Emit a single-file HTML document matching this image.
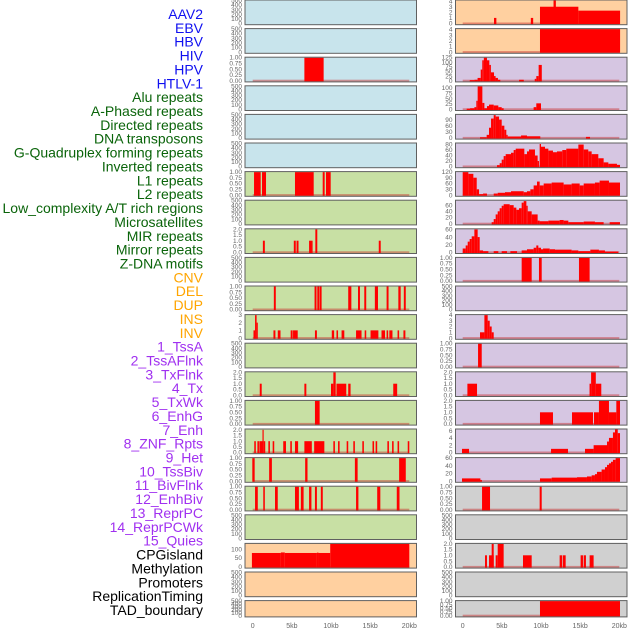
<!DOCTYPE html>
<html><head><meta charset="utf-8">
<style>
html,body{margin:0;padding:0;background:#fff;}
svg{display:block;font-family:"Liberation Sans",sans-serif;}
</style></head>
<body>
<svg id="chart" width="630" height="630" viewBox="0 0 630 630" xmlns="http://www.w3.org/2000/svg"></svg>
<script>
// ---------- labels ----------
const trackLabels = ["AAV2","EBV","HBV","HIV","HPV","HTLV-1","Alu repeats","A-Phased repeats","Directed repeats","DNA transposons","G-Quadruplex forming repeats","Inverted repeats","L1 repeats","L2 repeats","Low_complexity A/T rich regions","Microsatellites","MIR repeats","Mirror repeats","Z-DNA motifs","CNV","DEL","DUP","INS","INV","1_TssA","2_TssAFlnk","3_TxFlnk","4_Tx","5_TxWk","6_EnhG","7_Enh","8_ZNF_Rpts","9_Het","10_TssBiv","11_BivFlnk","12_EnhBiv","13_ReprPC","14_ReprPCWk","15_Quies","CPGisland","Methylation","Promoters","ReplicationTiming","TAD_boundary"];
const labelGroups = [6,13,5,15,5];
const groupColors = ["#1010f0","#0a640a","#ffa500","#a030f0","#000000"];
const xTickValues = [0,5,10,15,20];
const xTickLabels = ["0","5kb","10kb","15kb","20kb"];

// ---------- tick sets ----------
const tEmpty=[0,100,200,300,400,500];
const tFrac=[0,0.25,0.5,0.75,1];
const tTwo=[0,0.5,1,1.5,2];
const tThree=[0,1,2,3];
const tFour=[0,1,2,3,4];

// ---------- bars [startKb, endKb, value] ----------
const barsL03=[[6.6,9.06,1]];
const barsL07=[[0.17,1.02,1],[1.19,1.7,1],[5.4,7.79,1],[8.94,9.19,1],[9.36,9.96,1]];
const barsL09=[[1.3,1.55,1],[5.25,5.5,1],[5.6,5.85,1],[7.2,7.45,1],[7.45,7.65,1],[8.0,8.25,2],[16.1,16.35,1]];
const barsL11=[[2.7,2.95,1],[7.9,8.15,1],[8.25,8.5,1],[8.55,8.8,1],[12.2,12.6,1],[13.45,13.7,1],[14.25,14.5,1],[15.6,16.0,1],[17.1,17.35,1],[18.6,18.9,1],[19.3,19.55,1]];
const barsL12=[[0.1,0.3,1],[0.3,0.5,3],[0.5,0.65,2],[2.65,2.9,1],[3.2,3.55,1],[4.85,5.1,1],[5.15,5.75,1],[7.95,8.2,1],[10.1,10.4,1],[10.7,10.9,1],[11.35,11.7,1],[13.2,13.9,1],[14.3,14.5,1],[15.05,16.05,1],[16.45,16.9,1],[17.1,17.3,1],[17.45,17.85,1],[18.5,18.7,1],[19.25,19.5,1]];
const barsL14=[[0.9,1.15,1],[6.6,6.85,1],[10.0,10.3,1],[10.3,10.6,2],[10.7,11.95,1],[12.2,12.5,1],[17.95,18.45,1]];
const barsL15=[[7.95,8.55,1]];
const barsL16=[[0.2,0.4,1],[0.6,0.8,1],[0.85,1.25,1],[1.25,1.4,2],[1.4,1.6,1],[2.0,2.2,1],[2.55,2.75,1],[3.9,4.25,1],[4.8,5.0,1],[5.4,5.8,1],[6.6,7.55,1],[7.85,9.15,1],[10.3,10.5,1],[10.9,11.1,1],[12.0,12.2,1],[12.85,13.05,1],[14.0,14.2,1],[15.3,15.5,1],[15.7,15.9,1],[17.2,17.4,1],[17.8,18.0,1],[18.5,18.7,1],[19.8,20.0,1]];
const barsL17=[[-0.05,0.25,1],[2.1,2.45,1],[6.7,7.0,1],[13.05,13.4,1],[18.7,19.55,1]];
const barsL18=[[0.3,0.65,1],[1.35,1.55,1],[2.85,3.2,1],[5.4,5.9,1],[6.15,6.5,1],[7.2,7.5,1],[7.95,8.2,1],[8.7,8.95,1],[13.2,13.5,1],[15.9,16.3,1],[18.4,18.75,1]];
const barsL20=[[-0.1,3.6,78],[3.6,4.1,81],[4.1,8.2,78],[8.2,8.4,80],[8.4,9.9,78],[9.9,20.0,130]];

const barsR01=[[4.0,4.3,1],[8.7,9.0,1],[9.87,14.77,3],[11.6,11.9,4.15],[14.77,20.1,2.3]];
const barsR02=[[9.87,20.1,4.1]];
const barsR03=[[0.9,1.5,3],[1.5,1.9,5],[1.9,2.3,15],[2.3,2.5,60],[2.5,2.7,110],[2.7,3.1,125],[3.1,3.4,110],[3.4,3.6,85],[3.6,4.0,45],[4.0,4.2,25],[4.2,4.5,15],[4.5,4.8,5],[7.2,7.8,5],[9.2,9.4,10],[9.4,9.7,25],[9.7,10.1,85]];
const barsR04=[[0.51,0.94,3],[0.94,1.49,5],[1.49,1.74,10],[1.74,1.91,40],[1.91,2.51,108],[2.51,2.77,30],[2.77,3.1,5],[3.1,3.36,15],[3.36,3.96,22],[3.96,4.55,18],[4.55,4.98,10],[4.98,5.23,5],[9.06,9.4,10],[9.4,10.0,28]];
const barsR05=[[2.21,3.06,3],[3.06,3.36,15],[3.36,3.62,50],[3.62,3.96,95],[3.96,4.21,112],[4.21,4.64,105],[4.64,4.98,90],[4.98,5.32,60],[5.32,5.57,40],[5.57,5.74,15],[5.74,7.45,7],[7.45,8.21,12],[8.21,9.91,8],[15.74,16.26,5]];
const barsR06=[[4.38,4.72,5],[4.72,4.98,12],[4.98,5.23,25],[5.23,5.49,38],[5.49,6.17,45],[6.17,6.51,50],[6.51,6.77,60],[6.77,7.87,65],[7.87,8.21,45],[8.21,8.47,55],[8.47,9.23,62],[9.23,9.57,40],[9.57,9.74,20],[9.83,10.0,82],[10.0,10.51,72],[10.51,10.94,65],[10.94,11.53,58],[11.53,12.04,52],[12.04,12.72,55],[12.72,13.23,60],[13.23,14.77,65],[14.77,15.45,80],[15.45,16.04,62],[16.04,16.47,55],[16.47,17.32,45],[17.32,18.0,30],[18.0,18.6,15],[18.6,19.7,10],[19.7,20.09,6]];
const barsR07=[[0,0.72,120],[0.72,1.36,110],[1.36,1.79,90],[1.79,2.09,30],[2.09,2.6,5],[2.6,3.1,8],[3.96,4.47,8],[4.47,5.4,12],[5.4,6.17,15],[6.17,7.79,20],[7.79,8.21,15],[8.21,8.64,20],[8.64,9.06,30],[9.06,9.49,50],[9.49,9.83,70],[9.83,10.34,50],[10.34,11.36,60],[11.36,12.89,65],[12.89,13.91,55],[13.91,14.94,60],[14.94,15.45,50],[15.45,16.89,60],[16.89,17.49,65],[17.49,18.68,75],[18.68,20.09,65]];
const barsR08=[[3.7,3.96,5],[3.96,4.21,15],[4.21,4.47,30],[4.47,4.72,40],[4.72,4.98,50],[4.98,5.23,58],[5.23,6.0,63],[6.0,6.51,60],[6.51,6.85,52],[6.85,7.19,45],[7.19,7.53,50],[7.53,7.79,68],[7.79,8.13,73],[8.13,8.3,58],[8.3,8.81,40],[8.81,9.57,30],[9.57,9.83,10],[9.83,10.94,8],[10.94,12.38,10],[12.38,12.89,12],[12.89,13.49,10],[13.49,15.45,5],[15.45,16.89,7],[16.89,18.0,5],[18.77,20.09,5]];
const barsR09=[[0,0.38,10],[0.38,0.64,18],[0.64,0.89,28],[0.89,1.15,35],[1.15,1.49,42],[1.49,1.91,60],[1.91,2.17,40],[2.17,2.6,5],[2.6,3.28,3],[3.96,4.55,3],[4.98,5.66,3],[6.09,6.94,3],[7.53,8.21,5],[8.21,9.06,8],[9.06,9.4,12],[9.4,9.66,18],[9.66,10.0,12],[10.0,10.26,8],[10.26,11.11,10],[11.11,11.79,8],[11.79,13.91,7],[13.91,14.77,5],[14.77,16.3,3],[16.3,17.4,7],[17.4,18.17,5],[18.17,19.87,2]];
const barsR10=[[7.53,8.81,1],[9.74,10.09,1],[14.85,16.21,1]];
const barsR12=[[2.21,2.77,1],[2.77,3.19,4],[3.19,3.45,3],[3.45,3.7,2],[3.7,3.96,1]];
const barsR13=[[1.96,2.43,1]];
const barsR14=[[0.6,1.83,1],[16.2,16.4,1],[16.4,17.0,2],[17.0,17.7,1]];
const barsR15=[[9.87,11.53,1],[13.96,16.64,1],[16.77,17.4,1],[17.4,18.68,2],[18.68,19.62,1],[19.62,20.09,2]];
const barsR16=[[-0.09,0.81,1],[11.28,13.45,1],[15.62,16.72,1],[16.72,18.43,2],[18.43,18.68,3],[18.68,19.19,4],[19.19,19.45,5.5],[19.45,19.8,6.3],[19.8,20.09,5.3]];
const barsR17=[[-0.09,2.26,7],[2.26,2.45,3],[9.87,11.36,7],[11.36,14.6,9],[14.6,15.87,10],[15.87,16.47,12],[16.47,16.89,15],[16.89,17.15,18],[17.15,17.74,24],[17.74,18.17,30],[18.17,18.43,36],[18.43,18.68,42],[18.68,18.94,46],[18.94,19.19,50],[19.19,19.53,55],[19.53,20.09,60]];
const barsR18=[[2.47,3.49,1],[9.83,10.09,1]];
const barsR20=[[2.85,3.1,1],[3.36,3.96,1],[3.7,3.96,2],[4.21,4.47,1],[4.47,5.23,2],[7.7,8.81,1],[12.38,12.68,1],[12.77,13.15,1],[15.06,15.36,1],[15.45,15.74,1],[16.21,16.72,1]];
const barsR22=[[9.87,20.09,1]];

const BLUE="#c8e4ec",GREEN="#c8e0a4",PEACH="#ffd0a0",LAV="#d6c6e2",GREY="#d0d0d0";
// [col,row,bg,ymax,ticks,decimals,bars]
const panelDefs=[
 [0,0,BLUE,500,tEmpty,0,null],[0,1,BLUE,500,tEmpty,0,null],[0,2,BLUE,1,tFrac,2,barsL03],
 [0,3,BLUE,500,tEmpty,0,null],[0,4,BLUE,500,tEmpty,0,null],[0,5,BLUE,500,tEmpty,0,null],
 [0,6,GREEN,1,tFrac,2,barsL07],[0,7,GREEN,500,tEmpty,0,null],[0,8,GREEN,2,tTwo,1,barsL09],
 [0,9,GREEN,500,tEmpty,0,null],[0,10,GREEN,1,tFrac,2,barsL11],[0,11,GREEN,3,tThree,0,barsL12],
 [0,12,GREEN,500,tEmpty,0,null],[0,13,GREEN,2,tTwo,1,barsL14],[0,14,GREEN,1,tFrac,2,barsL15],
 [0,15,GREEN,2.05,tTwo,1,barsL16],[0,16,GREEN,1,tFrac,2,barsL17],[0,17,GREEN,1,tFrac,2,barsL18],
 [0,18,GREEN,500,tEmpty,0,null],[0,19,PEACH,130,[0,50,100],0,barsL20],
 [0,20,PEACH,500,tEmpty,0,null],[0,21,PEACH,500,tEmpty,0,null],
 [1,0,PEACH,4.15,tFour,0,barsR01],[1,1,PEACH,4.1,tFour,0,barsR02],[1,2,LAV,125,[0,25,50,75,100,125],0,barsR03],
 [1,3,LAV,109,[0,25,50,75,100],0,barsR04],[1,4,LAV,114,[0,30,60,90],0,barsR05],[1,5,LAV,84.5,[0,20,40,60,80],0,barsR06],
 [1,6,LAV,120,[0,30,60,90,120],0,barsR07],[1,7,LAV,75,[0,20,40,60],0,barsR08],[1,8,LAV,61,[0,20,40,60],0,barsR09],
 [1,9,LAV,1,tFrac,2,barsR10],[1,10,LAV,500,tEmpty,0,null],[1,11,LAV,4,tFour,0,barsR12],
 [1,12,LAV,1,tFrac,2,barsR13],[1,13,LAV,2,tTwo,1,barsR14],[1,14,LAV,2,tTwo,1,barsR15],
 [1,15,LAV,6.35,[0,2,4,6],0,barsR16],[1,16,LAV,60,[0,20,40,60],0,barsR17],
 [1,17,GREY,1,tFrac,2,barsR18],[1,18,GREY,500,tEmpty,0,null],[1,19,GREY,2,tTwo,1,barsR20],
 [1,20,GREY,500,tEmpty,0,null],[1,21,GREY,1,tFrac,2,barsR22]
];

const NS="http://www.w3.org/2000/svg";
const svg=document.getElementById('chart');
function mk(tag,attrs,parent){const e=document.createElementNS(NS,tag);for(const k in attrs)e.setAttribute(k,attrs[k]);(parent||svg).appendChild(e);return e;}

const colLeft=[245,455.5], colRight=[416.5,627];
const colX0=[252.7,462.7], kbPx=7.83;
function xScale(col,kb){return colX0[col]+kb*kbPx;}
const rowPitch=28.6, panelH=24.7;

// labels
let li=0;
labelGroups.forEach((n,g)=>{for(let k=0;k<n;k++){
  const t=mk('text',{x:203,y:14+li*13.86+5,'text-anchor':'end','font-size':'14',fill:groupColors[g]});
  
  
  t.textContent=trackLabels[li]; li++;
}});

panelDefs.forEach(p=>{
  const [col,row,bg,ymax,ticks,dec,bars]=p;
  const top=row*rowPitch;
  const h=row===21?16.3:panelH;
  const L=colLeft[col],R=colRight[col];
  const g=mk('g',{});
  
  
  mk('rect',{x:L,y:top,width:R-L,height:h,fill:bg},g);
  const y0=top+h-1.2;
  const yS=v=>y0-(v/ymax)*(h-1.5);
  if(bars){
    const base=mk('rect',{x:xScale(col,0),y:y0-1,width:20*kbPx,height:2,fill:'rgba(200,40,40,0.45)'},g);
    
    
    bars.forEach(b=>{
      const x1=Math.max(L+0.5,xScale(col,b[0])),x2=Math.min(R-0.5,xScale(col,b[1]));
      const yt=Math.max(top+0.5,yS(b[2]));
      const r=mk('rect',{x:x1,y:yt,width:Math.max(0.8,x2-x1),height:y0-yt+0.7,fill:'#ff0000'},g);
      
      
    });
  }
  mk('rect',{x:L,y:top,width:R-L,height:h,fill:'none',stroke:'#606060','stroke-width':1},g);
  ticks.forEach(v=>{
    const t=mk('text',{x:L-3,y:yS(v)+2.2,'text-anchor':'end','font-size':'6.5',fill:'#666'},g);
    
    
    t.textContent=v.toFixed(dec);
  });
});

[0,1].forEach(col=>{
  xTickValues.forEach((v,i)=>{
    const t=mk('text',{x:xScale(col,v),y:628,'text-anchor':'middle','font-size':'7',fill:'#666'});
    
    
    t.textContent=xTickLabels[i];
  });
});
</script>
</body></html>
